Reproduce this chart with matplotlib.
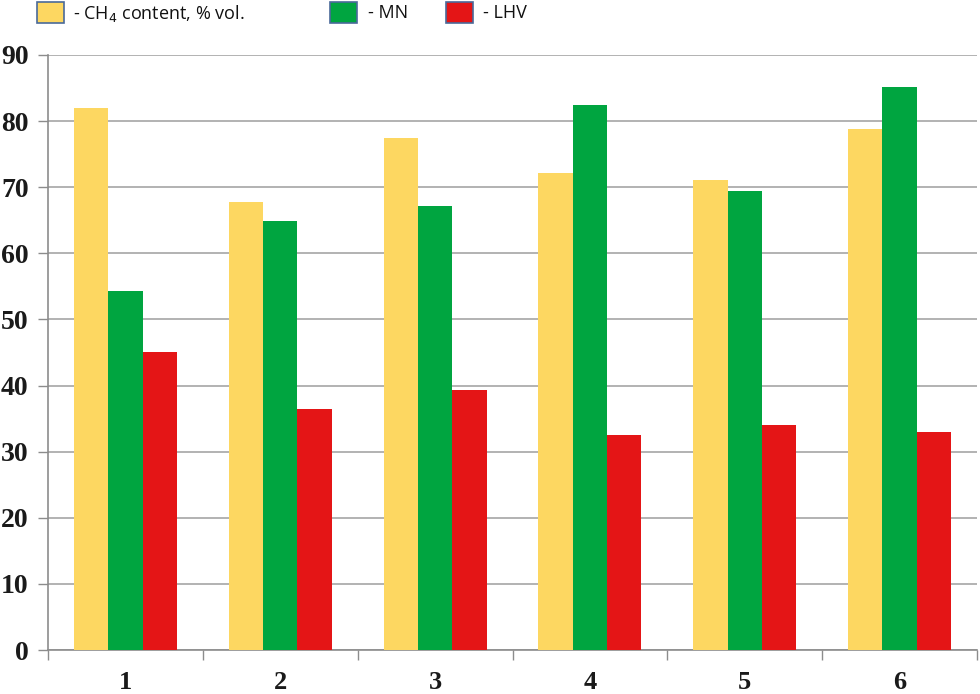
import matplotlib
matplotlib.use("Agg")
import matplotlib.pyplot as plt
import numpy as np
from matplotlib.patches import Rectangle

categories = ["1", "2", "3", "4", "5", "6"]
ch4 = [82.0, 67.7, 77.5, 72.2, 71.1, 78.8]
mn = [54.3, 64.9, 67.1, 82.4, 69.5, 85.2]
lhv = [45.1, 36.5, 39.4, 32.5, 34.1, 33.0]
yticks = [0, 10, 20, 30, 40, 50, 60, 70, 80, 90]

c_y = "#FDD761"
c_g = "#00A540"
c_r = "#E41516"

fig = plt.figure(figsize=(9.8, 6.94), dpi=100)
ax = fig.add_axes([48/980, 44/694, 929/980, 595/694])

x = np.arange(len(categories))
w = 0.222
ax.bar(x - w, ch4, w, color=c_y, zorder=3)
ax.bar(x, mn, w, color=c_g, zorder=3)
ax.bar(x + w, lhv, w, color=c_r, zorder=3)

ax.set_xlim(-0.5, len(categories) - 0.5)
ax.set_ylim(0, 90)
ax.set_yticks(yticks)
ax.set_yticklabels([str(t) for t in yticks], fontfamily="Liberation Serif",
                   fontweight="bold", fontsize=20, color="#1a1a1a")
ax.yaxis.grid(True, color="#a6a6a6", linewidth=1.2, zorder=0)
ax.set_axisbelow(True)

ax.set_xticks(x)
ax.set_xticklabels(categories, fontfamily="Liberation Serif", fontweight="bold",
                   fontsize=19, color="#1a1a1a")
ax.set_xticks(np.arange(-0.5, len(categories)), minor=True)
ax.tick_params(axis="x", which="major", length=0, pad=15)
ax.tick_params(axis="x", which="minor", length=7, width=1, color="#8c8c8c", direction="out")
ax.tick_params(axis="y", length=7, width=1, color="#8c8c8c", pad=7)

for s in ["top", "right"]:
    ax.spines[s].set_visible(False)
for s in ["left", "bottom"]:
    ax.spines[s].set_color("#8c8c8c")
    ax.spines[s].set_linewidth(1.2)

# legend
def px(xp, yp):
    return xp/980, 1 - yp/694

items = [(37, c_y, 73, "- CH$_4$ content, % vol."), (330, c_g, 368, "- MN"), (446, c_r, 483, "- LHV")]
for bx, col, tx, lab in items:
    fig.patches.append(Rectangle(px(bx, 23), 27/980, 21/694, transform=fig.transFigure,
                                 facecolor=col, edgecolor="#4a6a9a", linewidth=1.2))
    fig.text(*px(tx, 13), lab, fontsize=13, fontfamily="Open Sans", va="center", ha="left",
             color="#111111")

fig.savefig("out.png", dpi=100)
